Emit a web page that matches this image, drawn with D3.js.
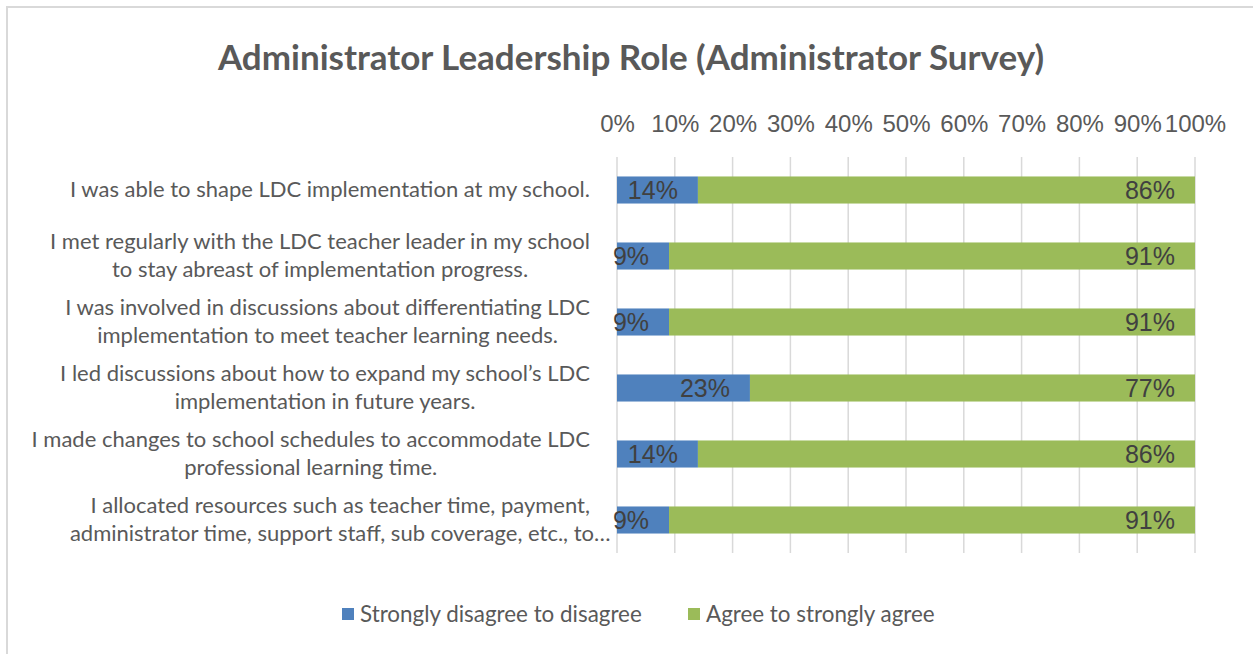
<!DOCTYPE html>
<html>
<head>
<meta charset="utf-8">
<script src="https://cdn.jsdelivr.net/npm/d3@7"></script>
<style>
  body { margin: 0; background: #fff; }
  .cat { font-family: Lato, "Open Sans", sans-serif; font-size: 22px; fill: #595959; }
  .tick text { font-family: "Liberation Sans", Arial, sans-serif; font-size: 24px; fill: #595959; }
  .val { font-family: "Liberation Sans", Arial, sans-serif; font-size: 25px; fill: #404040; }
  .title { font-family: Lato, "Open Sans", sans-serif; font-size: 35px; font-weight: bold; fill: #595959; }
  .legend { font-family: Lato, "Open Sans", sans-serif; font-size: 22.4px; fill: #595959; }
</style>
</head>
<body>
<script>
// data
var categories = [
    ["I was able to shape LDC implementation at my school."],
    ["I met regularly with the LDC teacher leader in my school", "to stay abreast of implementation progress."],
    ["I was involved in discussions about differentiating LDC", "implementation to meet teacher learning needs."],
    ["I led discussions about how to expand my school\u2019s LDC", "implementation in future years."],
    ["I made changes to school schedules to accommodate LDC", "professional learning time."],
    ["I allocated resources such as teacher time, payment,", "administrator time, support staff, sub coverage, etc., to\u2026"]
];
var disagree = [14, 9, 9, 23, 14, 9];
var agree = [86, 91, 91, 77, 86, 91];
var seriesNames = ["Strongly disagree to disagree", "Agree to strongly agree"];
var seriesColors = ["#4F81BD", "#9BBB59"];
var tickValues = [0, 10, 20, 30, 40, 50, 60, 70, 80, 90, 100];

var w = 1253, h = 654;

var svg = d3.select("body").append("svg")
    .attr("width", w)
    .attr("height", h);

// chart frame (only left and top edges are visible)
svg.append("path")
    .attr("d", "M7," + h + "V7H" + w)
    .attr("fill", "none")
    .attr("stroke", "#d9d9d9")
    .attr("stroke-width", 2);

svg.append("text")
    .attr("class", "title")
    .attr("text-anchor", "middle")
    .attr("x", 631)
    .attr("y", 70)
    .text("Administrator Leadership Role (Administrator Survey)");

var x = d3.scaleLinear()
    .domain([0, 100])
    .range([617, 1195]);

var y = d3.scaleBand()
    .domain(d3.range(categories.length))
    .range([157, 553])
    .paddingInner(0.59)
    .paddingOuter(0.295);

// gridlines
svg.append("g")
    .selectAll("line")
    .data(tickValues)
    .enter()
    .append("line")
    .attr("x1", function(d){ return x(d); })
    .attr("x2", function(d){ return x(d); })
    .attr("y1", 157)
    .attr("y2", 553)
    .attr("stroke", "#d9d9d9")
    .attr("stroke-width", 1.5);

// top axis with percent labels
var xAxis = d3.axisTop(x)
    .tickValues(tickValues)
    .tickSize(0)
    .tickFormat(function(d){ return d + "%"; });

var axis = svg.append("g")
    .attr("transform", "translate(0,132)")
    .call(xAxis);
axis.select(".domain").remove();
axis.selectAll(".tick text").attr("dy", 0).attr("y", 0);
axis.attr("font-size", null).attr("font-family", null);

var rows = categories.map(function(c, i){
    return { i: i, vals: [disagree[i], agree[i]] };
});

var stack = [];
rows.forEach(function(r){
    var start = 0;
    r.vals.forEach(function(v, s){
        stack.push({ i: r.i, s: s, x0: start, x1: start + v, v: v });
        start += v;
    });
});

svg.append("g")
    .selectAll("rect")
    .data(stack)
    .enter()
    .append("rect")
    .attr("x", function(d){ return x(d.x0); })
    .attr("width", function(d){ return x(d.x1) - x(d.x0); })
    .attr("y", function(d){ return y(d.i); })
    .attr("height", y.bandwidth())
    .attr("fill", function(d){ return seriesColors[d.s]; });

// value labels at the inside end of each segment
svg.append("g")
    .selectAll("text")
    .data(stack)
    .enter()
    .append("text")
    .attr("class", "val")
    .attr("text-anchor", "end")
    .attr("x", function(d){ return x(d.x1) - 20; })
    .attr("y", function(d){ return y(d.i) + y.bandwidth() / 2 + 9; })
    .text(function(d){ return d.v + "%"; });

// category labels, lines centred on the first line's centre
var lineH = 28;
categories.forEach(function(lines, i){
    var cy = y(i) + y.bandwidth() / 2;
    var t = svg.append("text")
        .attr("class", "cat")
        .attr("text-anchor", "middle");
    var first = t.append("tspan").text(lines[0]);
    var cx = 590 - first.node().getComputedTextLength() / 2;
    var top = cy - (lines.length - 1) * lineH / 2 + 7;
    t.selectAll("tspan").remove();
    lines.forEach(function(l, k){
        t.append("tspan")
            .attr("x", cx)
            .attr("y", top + k * lineH)
            .text(l);
    });
});

// legend
var legendX = [342, 688];
var legend = svg.append("g")
    .selectAll("g")
    .data(seriesNames)
    .enter()
    .append("g")
    .attr("transform", function(d, i){ return "translate(" + legendX[i] + ",614)"; });

legend.append("rect")
    .attr("x", 0)
    .attr("y", -6)
    .attr("width", 12)
    .attr("height", 12)
    .attr("fill", function(d, i){ return seriesColors[i]; });

legend.append("text")
    .attr("class", "legend")
    .attr("x", 18)
    .attr("y", 8)
    .text(function(d){ return d; });
</script>
</body>
</html>
